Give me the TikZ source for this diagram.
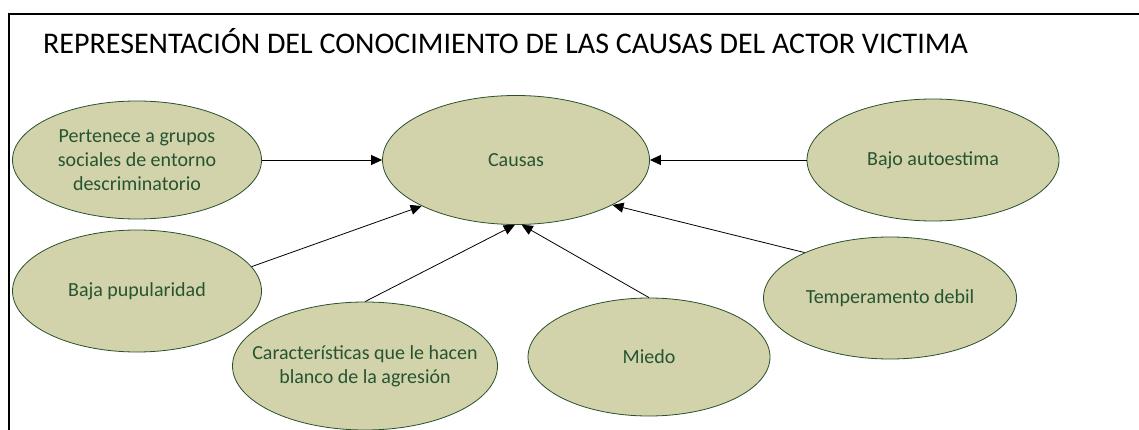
\documentclass[tikz,border=0pt]{standalone}
\usepackage{fontspec}
\setmainfont{Carlito}
\usepackage{tikz}
\usetikzlibrary{arrows.meta,shapes,positioning}
\usepackage{xcolor}
\definecolor{vicfill}{RGB}{210,211,170}
\definecolor{vicline}{RGB}{40,80,45}
\definecolor{victext}{RGB}{38,84,50}
\tikzstyle{arrow} = [line width=0.8pt,-{Triangle[length=11pt,width=10pt]},color=black]
\tikzstyle{causa} = [ellipse, draw=vicline, fill=vicfill, line width=0.8pt, text=victext, align=center, inner sep=0pt, font=\fontsize{20}{24}\selectfont]

\begin{document}
\begin{tikzpicture}[x=1pt, y=-1pt]
    \useasboundingbox (0,0) rectangle (1139,430);
    % Frame and title
    \draw[line width=2pt] (9,430) -- (9,14) -- (1139,14);
    \node[anchor=base west, inner sep=0pt, font=\fontsize{30}{36}\selectfont] (title) at (43,54) {REPRESENTACIÓN DEL CONOCIMIENTO DE LAS CAUSAS DEL ACTOR VICTIMA};

    % Nodes
    \node[causa, minimum width=267pt, minimum height=129pt] (causas) at (516,160) {Causas};
    \node[causa, minimum width=249pt, minimum height=118pt] (grupos) at (137,160) {Pertenece a grupos\\sociales de entorno\\descriminatorio};
    \node[causa, minimum width=249pt, minimum height=122pt] (popular) at (137,291) {Baja pupularidad};
    \node[causa, minimum width=265pt, minimum height=128pt, inner xsep=-40pt] (blanco) at (365,366) {Características que le hacen\\blanco de la agresión};
    \node[causa, minimum width=242pt, minimum height=118pt] (miedo) at (649,357) {Miedo};
    \node[causa, minimum width=253pt, minimum height=122pt] (temper) at (890,298) {Temperamento debil};
    \node[causa, minimum width=252pt, minimum height=122pt] (estima) at (933,160) {Bajo autoestima};

    % Arrows
    \draw[arrow] (grupos) -- (causas);
    \draw[arrow] (estima) -- (causas);
    \draw[arrow] (popular.12) -- (causas.206);
    \draw[arrow] (blanco.north) -- (causas.-91);
    \draw[arrow] (miedo.north) -- (causas.-85);
    \draw[arrow] (temper.152) -- (causas.-25);
\end{tikzpicture}
\end{document}
